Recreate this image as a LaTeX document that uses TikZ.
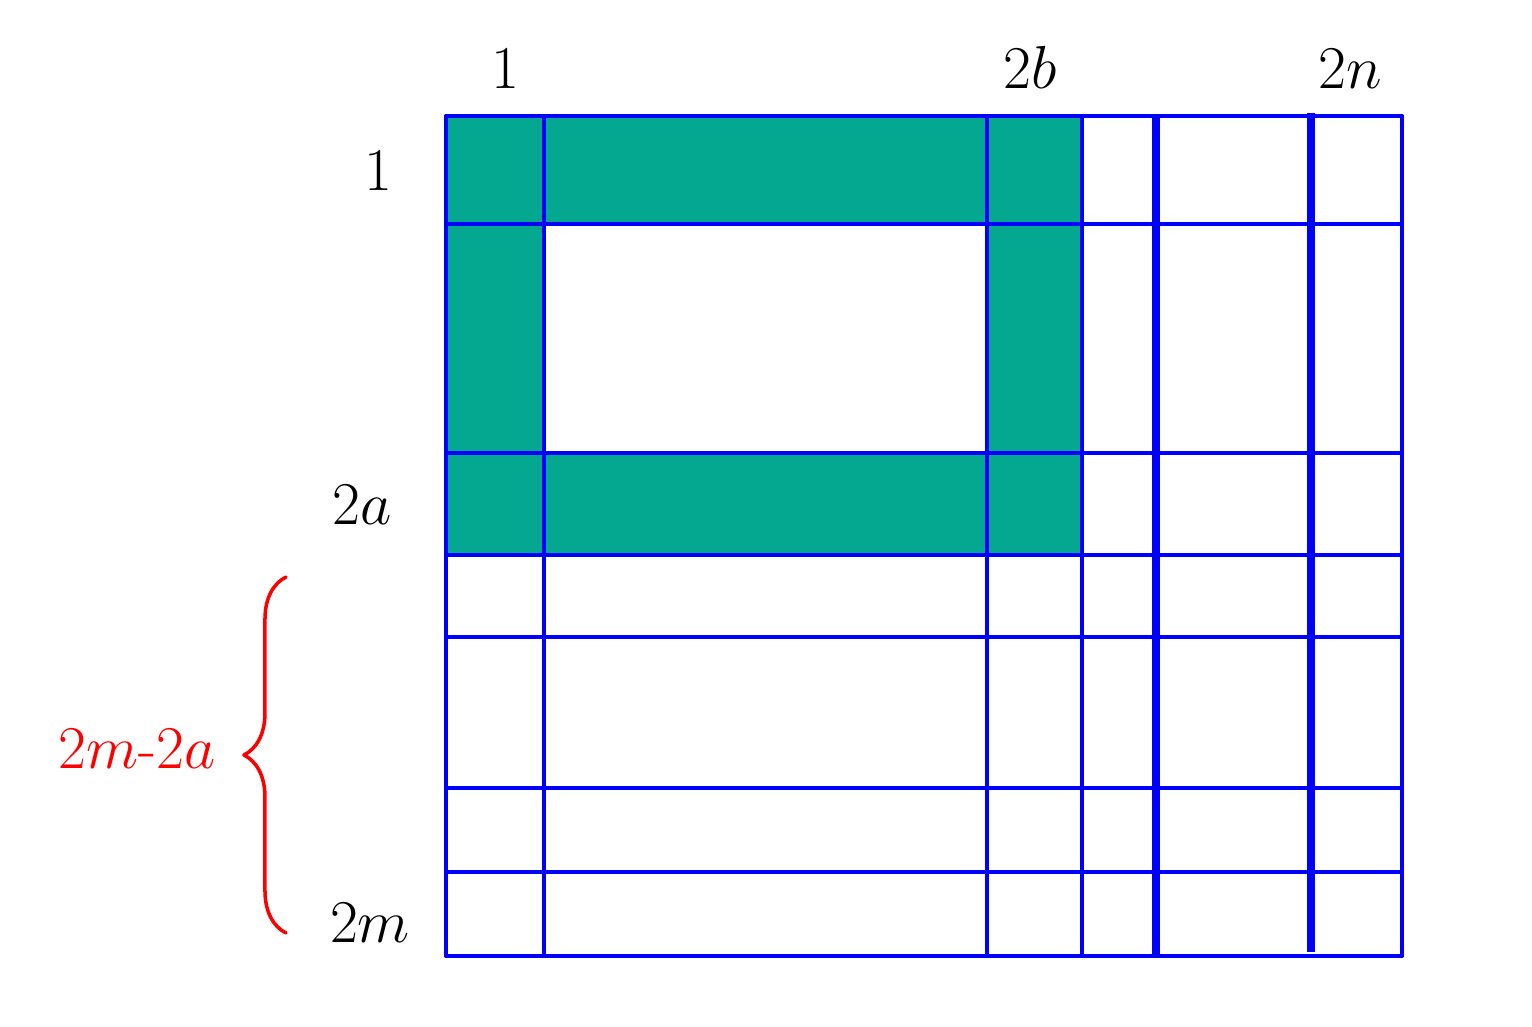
\documentclass[tikz,border=0pt]{standalone}
\usetikzlibrary{decorations.pathreplacing}
\definecolor{tealfill}{RGB}{4,168,144}
\begin{document}
\begin{tikzpicture}[x=0.01cm, y=-0.01cm, line cap=round, line join=round, font=\fontsize{17}{20}\selectfont]
	\tikzset{grid line/.style={blue, line width=1.1pt},
		thick line/.style={blue, line width=2.4pt},
		label style/.style={anchor=base, inner sep=0pt}}
	\useasboundingbox (0,0) rectangle (1532,1027);
	\fill[tealfill, even odd rule] (446,116) rectangle (1082,555) (544,224) rectangle (987,453);
	\foreach \y in {116,224,453,555,637,788,872,956}
		\draw[grid line] (446,\y)--(1402,\y);
	\foreach \x in {446,544,987,1082,1402}
		\draw[grid line] (\x,116)--(\x,956);
	\draw[thick line, line cap=butt] (1156,116)--(1156,956);
	\draw[thick line, line cap=butt] (1311,113)--(1311,952);
	\node[label style] (c1) at (505,88) {$1$};
	\node[label style] (c2b) at (1030,88) {$2b$};
	\node[label style] (c2n) at (1350,88) {$2n$};
	\node[label style] (r1) at (378,190) {$1$};
	\node[label style] (r2a) at (362,524) {$2a$};
	\node[label style] (r2m) at (370,942) {$2m$};
	\coordinate (bt) at (286,577);
	\coordinate (bb) at (286,933);
	\draw[red, line width=1pt, decorate, decoration={brace, amplitude=0.42cm}] (bb)--(bt);
	\node[label style, red] (diff) at (137,768) {$2m$-$2a$};
\end{tikzpicture}
\end{document}
